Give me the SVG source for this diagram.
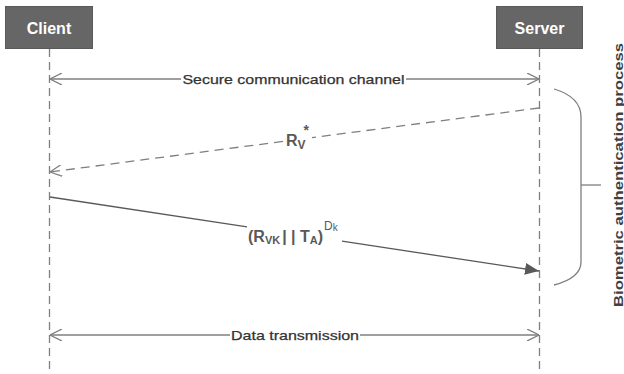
<svg xmlns="http://www.w3.org/2000/svg" width="624" height="374" viewBox="0 0 624 374">
  <style>
    .box { fill: #666666; stroke: #595959; stroke-width: 1; }
    .boxlabel { font-family: "Liberation Sans", Arial, sans-serif; font-size: 16px; font-weight: bold; fill: #ffffff; text-anchor: middle; }
    .lifeline { stroke: #7f7f7f; stroke-width: 1.3; stroke-dasharray: 8 5; fill: none; }
    .span { stroke: #7f7f7f; stroke-width: 1.3; fill: none; }
    .msg-dash { stroke: #7f7f7f; stroke-width: 1.3; stroke-dasharray: 9 6; fill: none; }
    .msg-solid { stroke: #595959; stroke-width: 1.3; fill: none; }
    .label { font-family: "Liberation Sans", Arial, sans-serif; font-size: 13px; fill: #333333; stroke: #333333; stroke-width: 0.25; }
    .mlabel { font-family: "Liberation Sans", Arial, sans-serif; font-size: 16px; font-weight: bold; fill: #595959; }
    .brace { stroke: #7f7f7f; stroke-width: 1.3; fill: none; }
    .side { font-family: "Liberation Sans", Arial, sans-serif; font-size: 13px; font-weight: bold; fill: #404040; }
  </style>
  <defs>
    <marker id="open" viewBox="0 0 12 12" refX="12" refY="6" markerWidth="12" markerHeight="12" markerUnits="userSpaceOnUse" orient="auto-start-reverse">
      <path d="M0,0 L12,6 L0,12" fill="none" stroke="#7f7f7f" stroke-width="1.3"/>
    </marker>
    <marker id="filled" viewBox="0 0 14 12" refX="14" refY="6" markerWidth="14" markerHeight="12" markerUnits="userSpaceOnUse" orient="auto">
      <path d="M0,0 L14,6 L0,12 Z" fill="#595959"/>
    </marker>
  </defs>

  <rect width="624" height="374" fill="#ffffff"/>

  <!-- participants -->
  <g id="client">
    <rect class="box" x="5.5" y="6.5" width="87" height="42"/>
    <text class="boxlabel" x="49" y="34">Client</text>
  </g>
  <g id="server">
    <rect class="box" x="496.5" y="6.5" width="86" height="42"/>
    <text class="boxlabel" x="539.5" y="34">Server</text>
  </g>

  <!-- connectors -->
  <g id="connectors">
    <line class="lifeline" x1="49.5" y1="49" x2="49.5" y2="374"/>
    <line class="lifeline" x1="539.5" y1="49" x2="539.5" y2="374"/>

    <!-- secure channel span -->
    <line class="span" x1="50" y1="79" x2="181" y2="79" marker-start="url(#open)"/>
    <line class="span" x1="406" y1="79" x2="539" y2="79" marker-end="url(#open)"/>

    <!-- RV* : server to client, dashed -->
    <line class="msg-dash" x1="539" y1="108" x2="312" y2="137.6"/>
    <line class="msg-dash" x1="283" y1="141.4" x2="50" y2="172" marker-end="url(#open)"/>

    <!-- (RVK||TA)^Dk : client to server, solid -->
    <line class="msg-solid" x1="50" y1="197" x2="247" y2="226.8"/>
    <line class="msg-solid" x1="342" y1="241.2" x2="539" y2="271" marker-end="url(#filled)"/>

    <!-- data transmission span -->
    <line class="span" x1="50" y1="335" x2="230" y2="335" marker-start="url(#open)"/>
    <line class="span" x1="360" y1="335" x2="539" y2="335" marker-end="url(#open)"/>
  </g>

  <!-- span labels -->
  <text class="label" x="293.5" y="83.5" text-anchor="middle" textLength="222" lengthAdjust="spacingAndGlyphs">Secure communication channel</text>
  <text class="label" x="295" y="339.5" text-anchor="middle" textLength="128" lengthAdjust="spacingAndGlyphs">Data transmission</text>

  <!-- message labels -->
  <text class="mlabel" x="286" y="145.5">R<tspan font-size="12" dy="3">V</tspan><tspan font-size="14" dx="-2" dy="-14">*</tspan></text>
  <text class="mlabel" x="248" y="242">(R<tspan font-size="11" dy="2">VK</tspan><tspan dy="-2" dx="2">| | T</tspan><tspan font-size="11" dy="2">A</tspan><tspan dy="-2">)</tspan><tspan font-size="12" font-weight="normal" dy="-12" dx="1">D</tspan><tspan font-size="10" font-weight="normal" dy="1">k</tspan></text>

  <!-- bracket grouping the authentication exchange -->
  <g id="auth-bracket">
    <path class="brace" d="M554,89 Q581,97 581,117 L581,262 Q581,278 554,285"/>
    <line class="brace" x1="581" y1="185" x2="601" y2="185"/>
    <text class="side" transform="translate(622.5,175) rotate(-90)" text-anchor="middle" textLength="264" lengthAdjust="spacingAndGlyphs">Biometric authentication process</text>
  </g>
</svg>
